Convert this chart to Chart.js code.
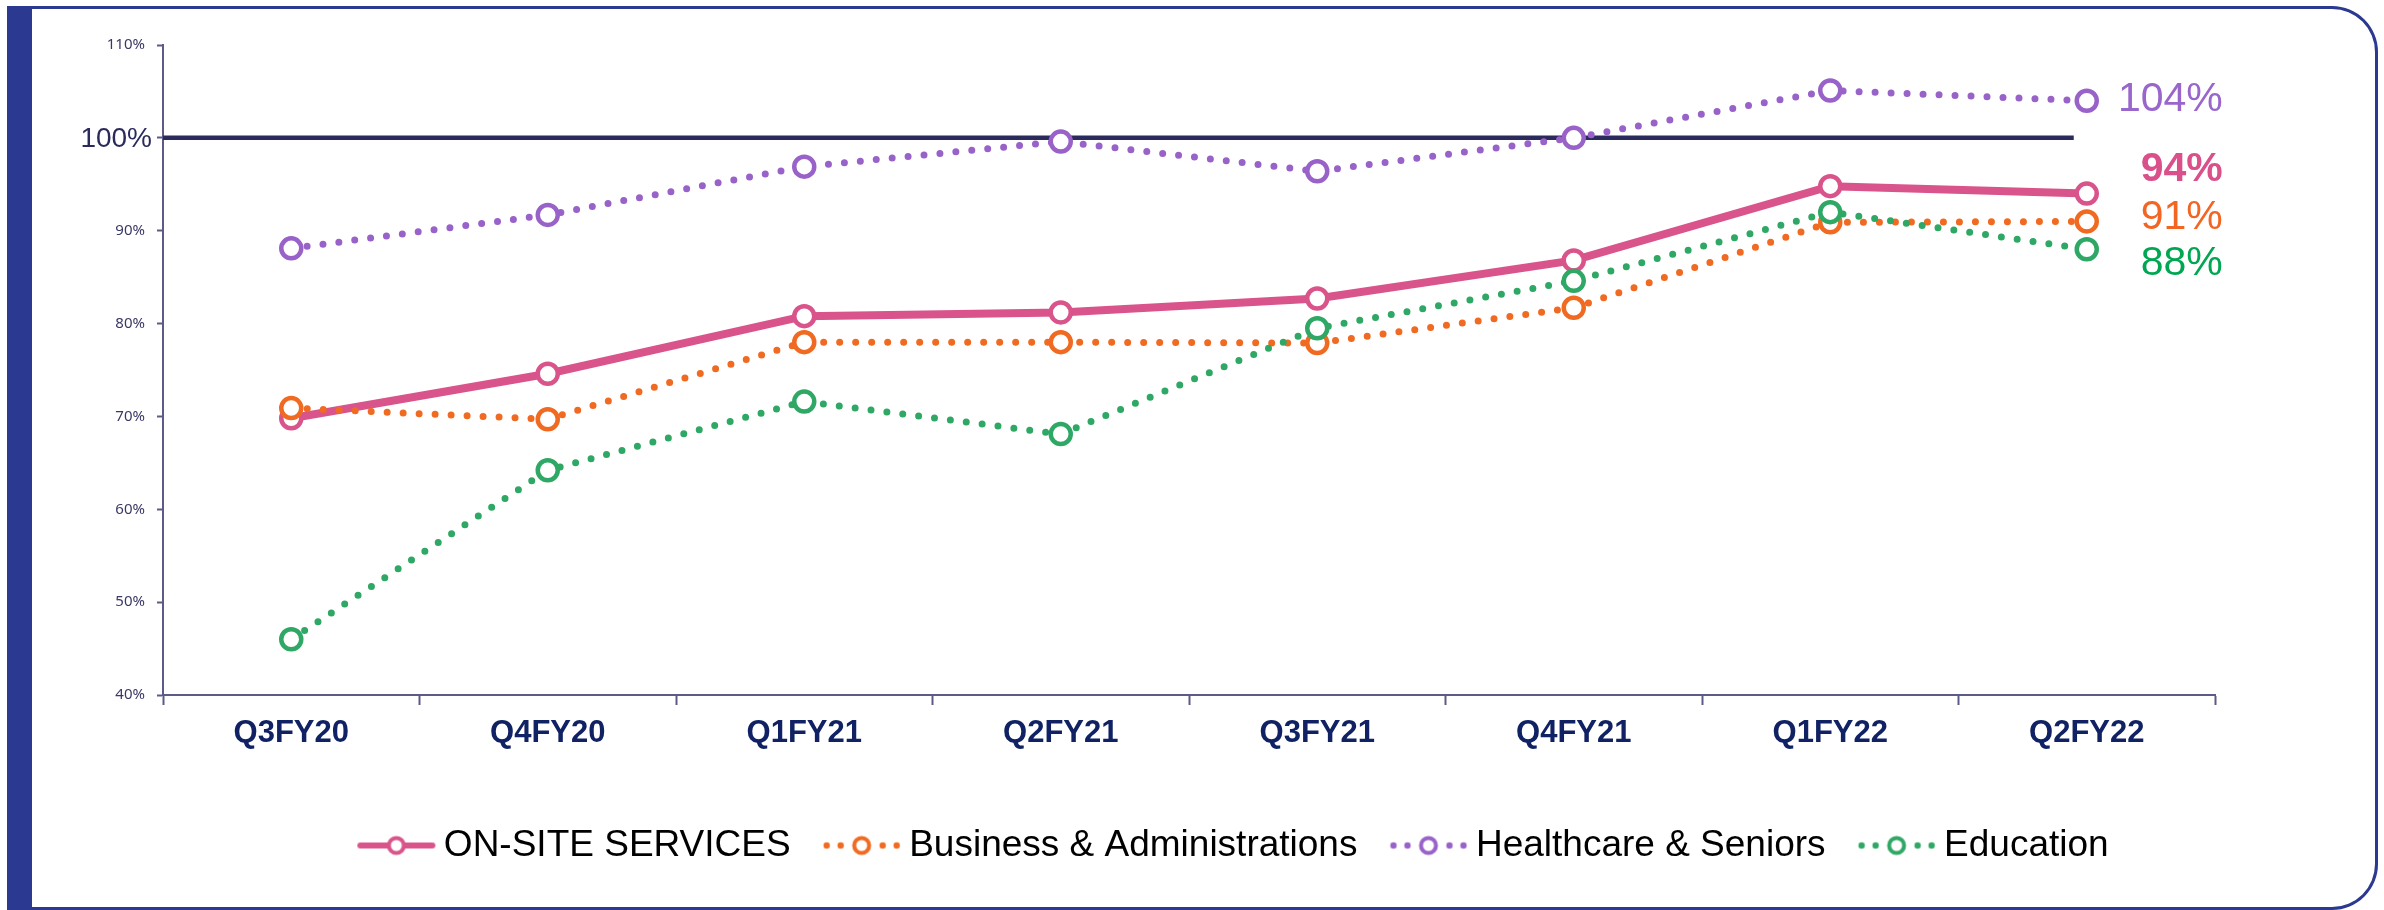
<!DOCTYPE html>
<html>
<head>
<meta charset="utf-8">
<script src="https://cdn.jsdelivr.net/npm/chart.js@4.4.0/dist/chart.umd.min.js"></script>
<style>
html, body { margin: 0; padding: 0; background: #fff; }
body { width: 2384px; height: 910px; position: relative; overflow: hidden; }
#frame {
	position: absolute; left: 7px; top: 6px; width: 2371px; height: 904px;
	box-sizing: border-box;
	border: 3px solid #2b3990; border-left: 25px solid #2b3990;
	border-radius: 0 46px 46px 0;
}
#chart { position: absolute; left: 0; top: 0; }
</style>
</head>
<body>
<div id="frame"></div>
<canvas id="chart" width="2384" height="910"></canvas>
<script>
var quarters = ["Q3FY20", "Q4FY20", "Q1FY21", "Q2FY21", "Q3FY21", "Q4FY21", "Q1FY22", "Q2FY22"];
var onSite = [69.8, 74.6, 80.8, 81.2, 82.7, 86.8, 94.8, 94];
var business = [70.9, 69.7, 78.0, 78.0, 77.9, 81.7, 90.9, 91];
var healthcare = [88.1, 91.7, 96.9, 99.6, 96.4, 100.0, 105.1, 104];
var education = [46.0, 64.2, 71.6, 68.1, 79.5, 84.6, 92.0, 88];
var seriesNames = ["ON-SITE SERVICES", "Business & Administrations", "Healthcare & Seniors", "Education"];
var yTicks = [40, 50, 60, 70, 80, 90, 100, 110];
var target = 100;

var FONT = '"Liberation Sans", Arial, sans-serif';
var lineColors = ["#d9548b", "#f06a21", "#9862c9", "#2fa866"];
var textColors = ["#d9508a", "#f26522", "#9966cc", "#00a651"];
var navy = "#2b2a5c";
var axisColor = "#5c5b87";

Chart.defaults.font.family = FONT;

// small line+marker glyph used as the legend symbol
function legendGlyph(color, dotted) {
	var c = document.createElement("canvas");
	c.width = 200;
	c.height = 30;
	var g = c.getContext("2d");
	g.strokeStyle = color;
	g.fillStyle = color;
	if (dotted) {
		[81, 95, 137, 151].forEach(function(x) {
			g.beginPath();
			g.arc(x, 15, 3.2, 0, Math.PI * 2);
			g.fill();
		});
	} else {
		g.lineWidth = 6;
		g.lineCap = "round";
		g.beginPath();
		g.moveTo(80, 15);
		g.lineTo(152, 15);
		g.stroke();
	}
	g.beginPath();
	g.arc(116, 15, 7.5, 0, Math.PI * 2);
	g.fillStyle = "#fff";
	g.fill();
	g.lineWidth = 4;
	g.stroke();
	return c;
}

function makeDataset(i, values, dotted, order) {
	return {
		label: seriesNames[i],
		data: values,
		borderColor: lineColors[i],
		backgroundColor: lineColors[i],
		borderWidth: dotted ? 7 : 8,
		borderDash: dotted ? [0, 16] : [],
		borderCapStyle: "round",
		tension: 0,
		pointRadius: 10,
		pointBorderWidth: 4.5,
		pointBackgroundColor: "#fff",
		pointBorderColor: lineColors[i],
		order: order
	};
}

// target line with its "100%" caption
var targetLine = {
	id: "targetLine",
	beforeDatasetsDraw: function(chart) {
		var ctx = chart.ctx;
		var y = chart.scales.y.getPixelForValue(target);
		var x0 = chart.chartArea.left;
		var x1 = chart.scales.x.getPixelForValue(quarters.length - 1) - 13;
		ctx.save();
		ctx.strokeStyle = navy;
		ctx.lineWidth = 4.5;
		ctx.beginPath();
		ctx.moveTo(x0, y);
		ctx.lineTo(x1, y);
		ctx.stroke();
		ctx.fillStyle = navy;
		ctx.font = "28px " + FONT;
		ctx.textAlign = "right";
		ctx.textBaseline = "middle";
		ctx.fillText(target + "%", x0 - 11, y + 1);
		ctx.restore();
	}
};

// latest value printed to the right of each series
var endLabels = {
	id: "endLabels",
	afterDatasetsDraw: function(chart) {
		var ctx = chart.ctx;
		var nudge = [-24, -4, -1, 14];
		ctx.save();
		ctx.textAlign = "right";
		ctx.textBaseline = "middle";
		chart.data.datasets.forEach(function(ds, i) {
			var meta = chart.getDatasetMeta(i);
			var pt = meta.data[meta.data.length - 1];
			var v = ds.data[ds.data.length - 1];
			ctx.font = (i == 0 ? "bold " : "") + "41px " + FONT;
			ctx.fillStyle = textColors[i];
			ctx.fillText(Math.round(v) + "%", pt.x + 136, pt.y + nudge[i]);
		});
		ctx.restore();
	}
};

// centre the legend row under the plot like the printed version
var legendShift = {
	id: "legendShift",
	afterLayout: function(chart) {
		chart.legend.left += 33;
		chart.legend.right += 33;
	}
};

var config = {
	type: "line",
	data: {
		labels: quarters,
		datasets: [
			makeDataset(0, onSite, false, 4),
			makeDataset(1, business, true, 3),
			makeDataset(2, healthcare, true, 2),
			makeDataset(3, education, true, 1)
		]
	},
	options: {
		responsive: false,
		animation: false,
		layout: {
			padding: { left: 93, right: 169, top: 45, bottom: 36 }
		},
		plugins: {
			tooltip: { enabled: false },
			legend: {
				position: "bottom",
				fullSize: false,
				labels: {
					usePointStyle: true,
					pointStyleWidth: 90,
					padding: 10,
					color: navy,
					font: { size: 37, family: FONT },
					generateLabels: function(chart) {
						return chart.data.datasets.map(function(ds, i) {
							return {
								text: ds.label,
								fillStyle: lineColors[i],
								strokeStyle: lineColors[i],
								lineWidth: 0,
								pointStyle: legendGlyph(lineColors[i], i > 0),
								hidden: false,
								datasetIndex: i
							};
						});
					}
				}
			}
		},
		scales: {
			x: {
				offset: true,
				grid: {
					offset: true,
					drawOnChartArea: false,
					tickLength: 10,
					tickWidth: 2,
					tickColor: axisColor
				},
				border: { color: axisColor, width: 2 },
				ticks: {
					color: "#102264",
					font: { size: 31, weight: "bold", family: FONT },
					padding: 10,
					maxRotation: 0,
					autoSkip: false
				},
				afterFit: function(scale) { scale.height = 122; }
			},
			y: {
				min: 40,
				max: 110,
				afterBuildTicks: function(scale) {
					scale.ticks = yTicks.map(function(v) { return { value: v }; });
				},
				grid: {
					drawOnChartArea: false,
					tickLength: 6,
					tickWidth: 2,
					tickColor: axisColor
				},
				border: { color: axisColor, width: 2 },
				ticks: {
					color: "#3a3966",
					font: { size: 15, family: '"Noto Sans", sans-serif' },
					padding: 12,
					callback: function(v) {
						return v == target ? "" : v + "%";
					}
				},
				afterFit: function(scale) { scale.width = 70; }
			}
		}
	},
	plugins: [targetLine, endLabels, legendShift]
};

new Chart(document.getElementById("chart").getContext("2d"), config);
</script>
</body>
</html>
